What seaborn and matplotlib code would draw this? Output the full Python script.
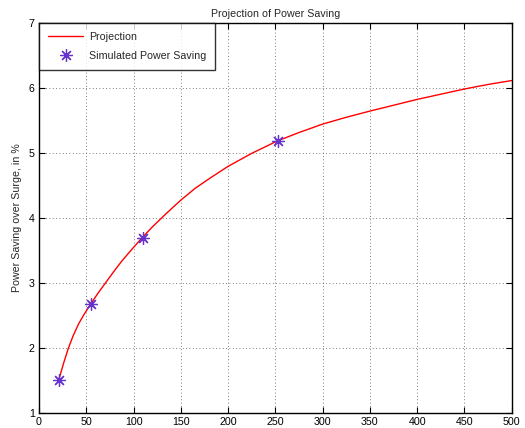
import matplotlib
matplotlib.use("Agg")
import matplotlib.pyplot as plt
import seaborn as sns
import pandas as pd

# Projection curve
proj_x = [21, 26, 31, 36, 42, 48, 55, 62, 70, 79, 88, 98, 109, 120, 135, 150, 165, 180,
          200, 225, 252, 275, 300, 325, 350, 375, 400, 425, 450, 475, 500]
proj_y = [1.51, 1.76, 1.99, 2.18, 2.37, 2.52, 2.68, 2.83, 2.99, 3.17, 3.34, 3.51, 3.69,
          3.86, 4.07, 4.27, 4.45, 4.60, 4.79, 4.99, 5.18, 5.31, 5.44, 5.545, 5.64, 5.73,
          5.82, 5.90, 5.98, 6.05, 6.11]

# Simulated points
sim_x = [21, 55.5, 109.5, 252.5]
sim_y = [1.51, 2.68, 3.69, 5.18]

x_ticks = [0, 50, 100, 150, 200, 250, 300, 350, 400, 450, 500]
y_ticks = [1, 2, 3, 4, 5, 6, 7]

title = "Projection of Power Saving"
ylabel = "Power Saving over Surge, in %"

sns.set_theme(style="white")
plt.rcParams['font.family'] = ['Liberation Sans', 'DejaVu Sans']

fig = plt.figure(figsize=(5.25, 4.28), dpi=100)
ax = fig.add_axes([39 / 525, (428 - 412.7) / 428, (511.7 - 39) / 525, (412.7 - 22.7) / 428])

df_proj = pd.DataFrame({"x": proj_x, "y": proj_y})
df_sim = pd.DataFrame({"x": sim_x, "y": sim_y})

sns.lineplot(data=df_proj, x="x", y="y", ax=ax, color="#ff0000", linewidth=1.0,
             label="Projection", sort=True, estimator=None)
ax.plot(df_sim["x"], df_sim["y"], linestyle="none", marker=(8, 2, 0), markersize=9,
        markeredgewidth=0.9, color="#6633cc", label="Simulated Power Saving")

ax.set_xlim(0, 500)
ax.set_ylim(1, 7)
ax.set_xticks(x_ticks)
ax.set_yticks(y_ticks)
ax.set_xticklabels([str(t) for t in x_ticks])
ax.set_yticklabels([str(t) for t in y_ticks])

ax.grid(True, linestyle=(0, (1, 3)), color="#555555", linewidth=0.6)
for s in ax.spines.values():
    s.set_visible(True)
    s.set_color("black")
    s.set_linewidth(1.0)
ax.tick_params(axis="both", direction="in", length=4, width=0.8, labelsize=7.7,
               top=True, right=True, bottom=True, left=True, pad=3, colors="black")

ax.set_title(title, fontsize=7.7, pad=4)
ax.set_xlabel("")
ax.set_ylabel(ylabel, fontsize=7.7, labelpad=5)

leg = ax.legend(loc="upper left", fontsize=7.7, frameon=True, fancybox=False,
                borderaxespad=0.0, handlelength=3.3, borderpad=0.85, labelspacing=0.85,
                handletextpad=0.5)
leg.get_frame().set_edgecolor("black")
leg.get_frame().set_linewidth(1.0)

fig.savefig("out.png", dpi=100)
